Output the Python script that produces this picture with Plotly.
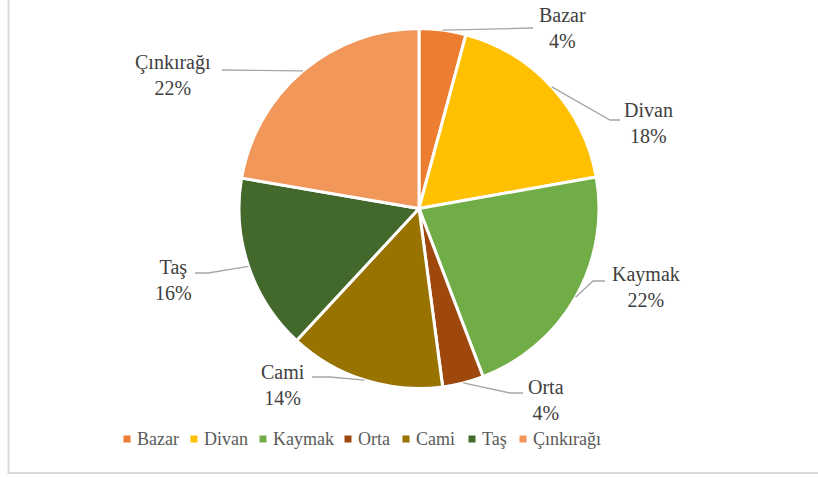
import math
import plotly.graph_objects as go

# ---- data ----
categories = ["Bazar", "Divan", "Kaymak", "Orta", "Cami", "Taş", "Çınkırağı"]
shares = [4.2, 18.0, 22.0, 3.7, 14.0, 15.8, 22.3]
colors = ["#ED7D31", "#FFC000", "#70AD47", "#9E480E", "#997300", "#43682B", "#F1975A"]

# ---- layout / style (pixels) ----
W, H = 818, 477
CX, CY, R = 419, 208.5, 180
# elbow point and label centre for each slice's callout
elbows = [(533, 28), (610, 120), (593, 281), (510, 393), (330, 377), (208, 273), (222, 70)]
ends = [(533, 28), (620, 120), (605, 281), (523, 393), (312, 377), (195, 273), (222, 70)]
label_pos = [(562, 28), (648, 123), (646, 287), (546, 400), (283, 385), (173, 280), (173, 75)]
legend_marker_x = [127, 194, 263, 348, 406, 472, 523]
LEGEND_Y = 439

FONT = "Liberation Serif, DejaVu Serif"
TXT = "#404040"
LEG_TXT = "#595959"

def px(x):
    return x / W

def py(y):
    return 1 - y / H

fig = go.Figure()
fig.add_trace(go.Pie(
    labels=categories, values=shares, sort=False, direction="clockwise", rotation=0,
    marker=dict(colors=colors, line=dict(color="white", width=3)),
    textinfo="none", hoverinfo="label+percent", showlegend=False,
    domain=dict(x=[px(CX - R), px(CX + R)], y=[py(CY + R), py(CY - R)]),
))

total = sum(shares)
cum = 0
shapes = []
annotations = []
for i, (c, v) in enumerate(zip(categories, shares)):
    mid = (cum + v / 2) / total * 2 * math.pi
    cum += v
    ex = CX + R * math.sin(mid)
    ey = CY - R * math.cos(mid)
    (bx, by), (tx, ty) = elbows[i], ends[i]
    path = f"M{px(ex)},{py(ey)} L{px(bx)},{py(by)} L{px(tx)},{py(ty)}"
    shapes.append(dict(type="path", path=path, xref="paper", yref="paper",
                       line=dict(color="#A6A6A6", width=1.3)))
    lx, ly = label_pos[i]
    pct = round(v / total * 100)
    annotations.append(dict(x=px(lx), y=py(ly), xref="paper", yref="paper",
                            text=f"{c}<br>{pct}%", showarrow=False,
                            xanchor="center", yanchor="middle", align="center",
                            font=dict(family=FONT, size=20, color=TXT)))

# legend (marker squares + names)
for c, col, mx in zip(categories, colors, legend_marker_x):
    shapes.append(dict(type="rect", xref="paper", yref="paper",
                       x0=px(mx - 3.5), x1=px(mx + 3.5),
                       y0=py(LEGEND_Y + 3.5), y1=py(LEGEND_Y - 3.5),
                       line=dict(width=0), fillcolor=col))
    annotations.append(dict(x=px(mx + 8), y=py(LEGEND_Y), xref="paper", yref="paper",
                            text=c, showarrow=False, xanchor="left", yanchor="middle",
                            font=dict(family=FONT, size=18, color=LEG_TXT)))

# chart border
shapes.append(dict(type="rect", xref="paper", yref="paper",
                   x0=px(8.5), x1=px(W + 10), y0=py(473), y1=py(-10),
                   line=dict(color="#D9D9D9", width=2), fillcolor="rgba(0,0,0,0)"))

fig.update_layout(
    width=W, height=H, margin=dict(l=0, r=0, t=0, b=0),
    paper_bgcolor="white", plot_bgcolor="white",
    showlegend=False,
    shapes=shapes, annotations=annotations,
)

fig.write_html("out.html")
